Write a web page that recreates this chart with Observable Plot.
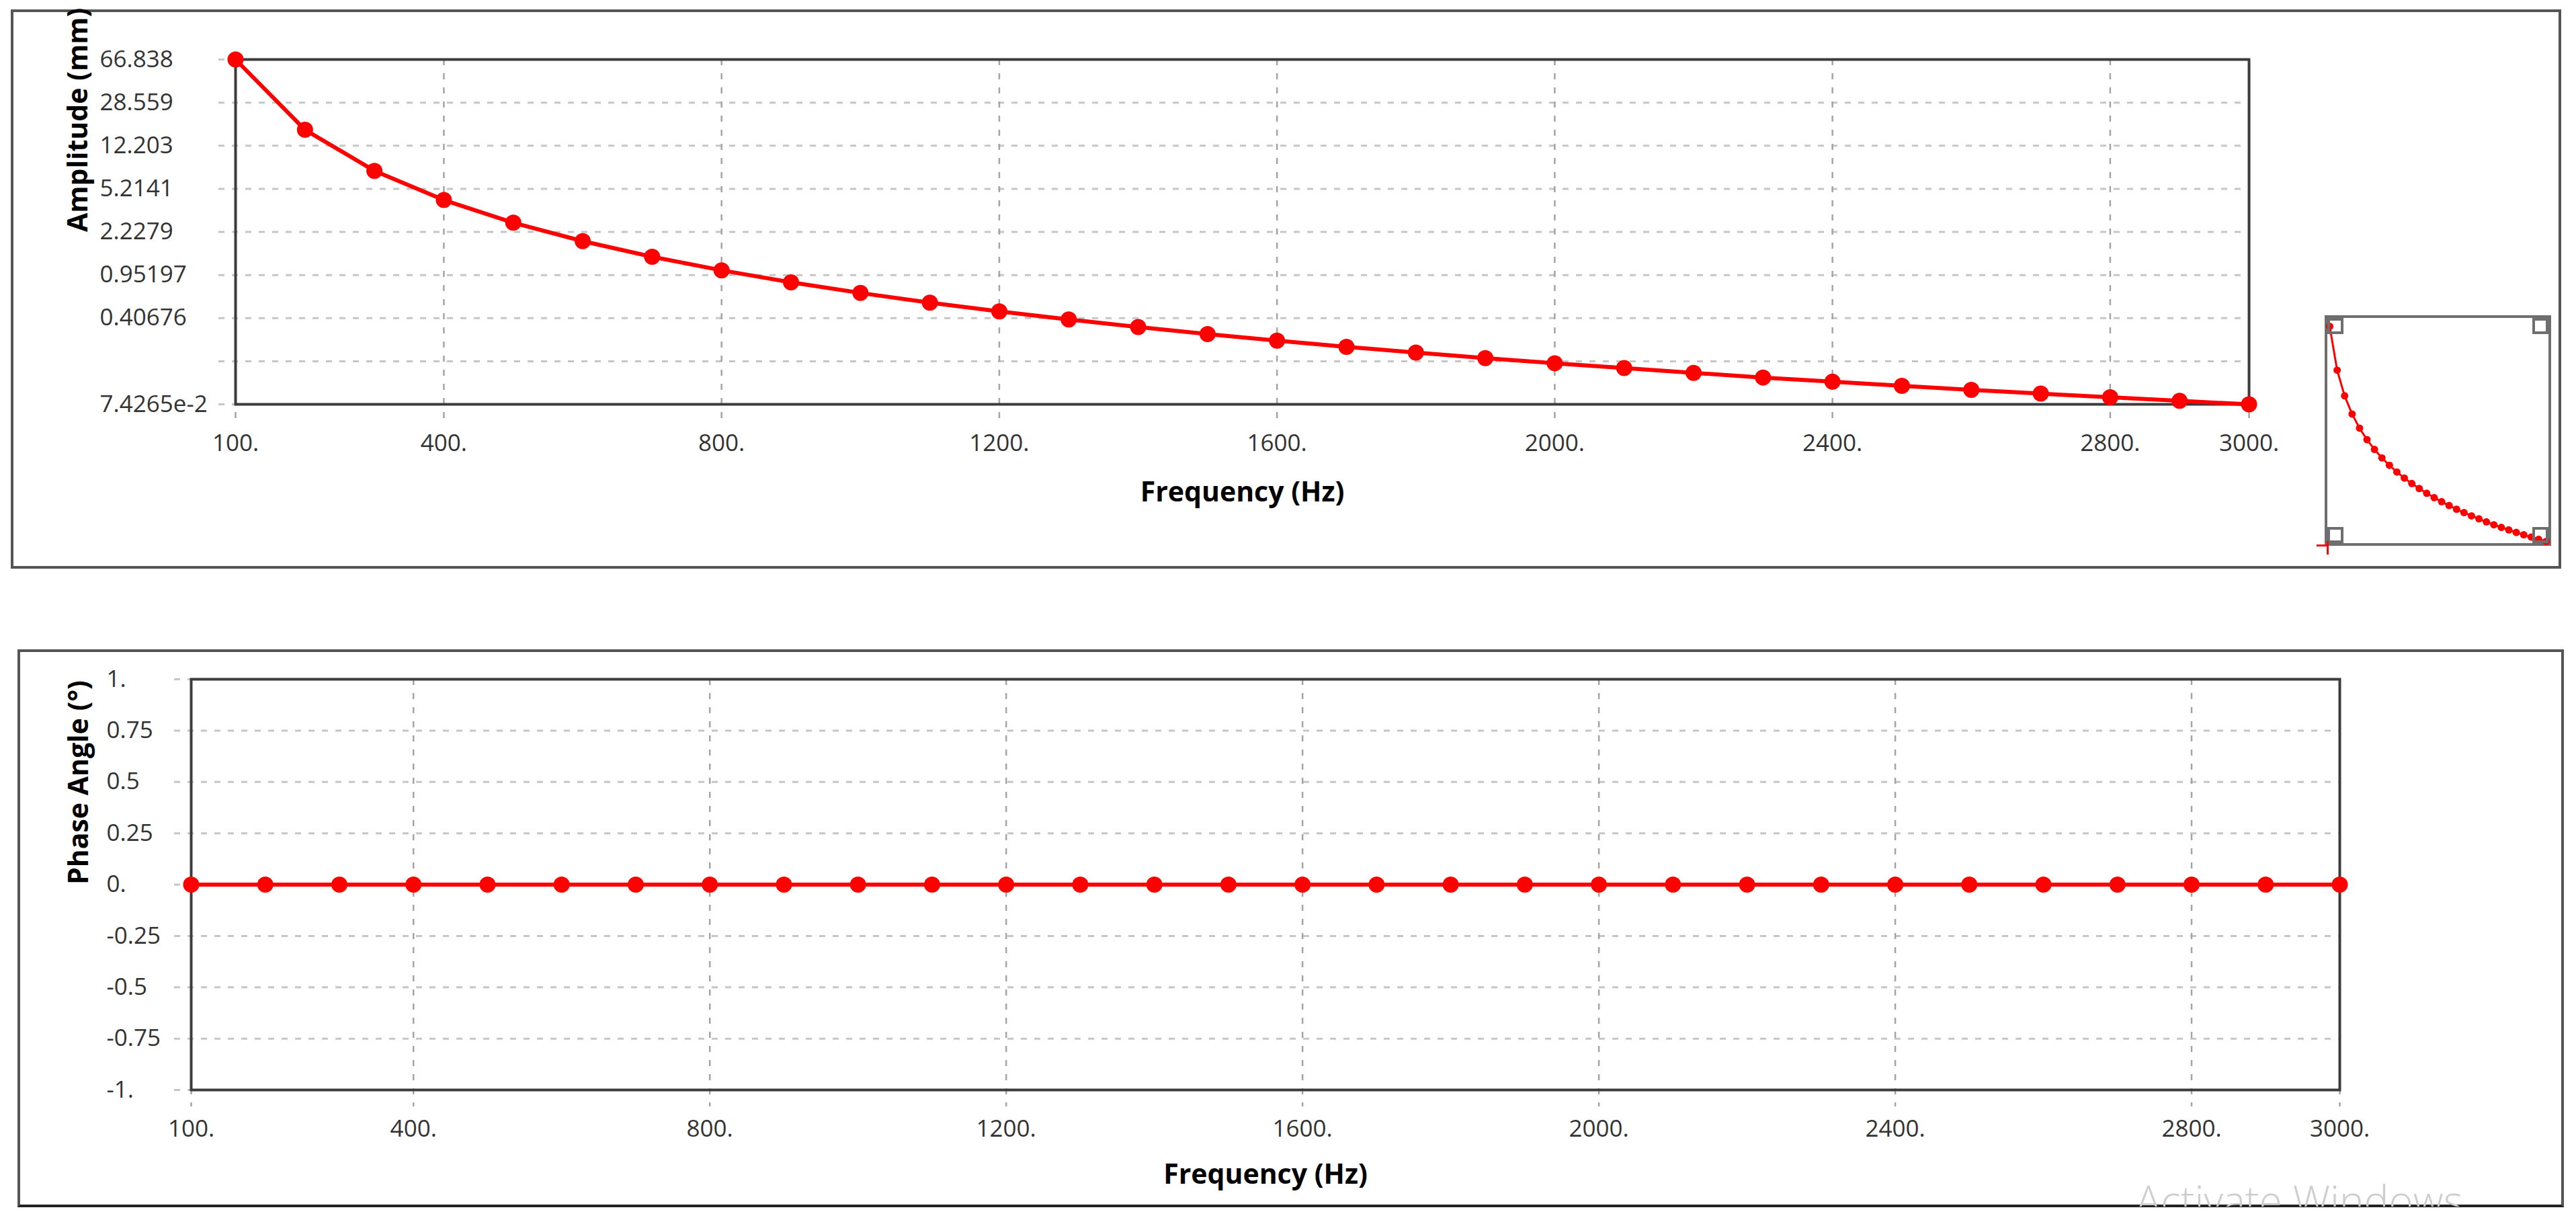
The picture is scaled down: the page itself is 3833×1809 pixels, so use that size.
<!DOCTYPE html>
<html>
<head>
<meta charset="utf-8">
<script src="https://cdn.jsdelivr.net/npm/d3@7"></script>
<script src="https://cdn.jsdelivr.net/npm/@observablehq/plot@0.6"></script>
<style>
html, body { margin: 0; padding: 0; background: #fff; }
#page { position: relative; width: 3833px; height: 1809px; overflow: hidden; background: #fff; font-family: "Open Sans", sans-serif; }
.panel { position: absolute; border: 4px solid #555; box-sizing: border-box; }
.chart { position: absolute; left: 0; }
#inset { position: absolute; left: 3459px; top: 469px; width: 337px; height: 343px; border: 4px solid #6e6e6e; box-sizing: border-box; background: #fff; }
#inset svg { position: absolute; left: 0; top: 0; }
.corner { position: absolute; width: 24px; height: 24px; border: 4px solid #6e6e6e; box-sizing: border-box; }
.cross { position: absolute; background: #ff0000; }
#wm { position: absolute; left: 3178px; top: 1740px; width: 640px; height: 55px; overflow: hidden; }
#wm span { position: absolute; left: 0; top: 14px; font-family: "Open Sans", sans-serif; font-weight: 300; font-size: 62px; line-height: 1; color: #cdcdcd; white-space: nowrap; }
</style>
</head>
<body>
<div id="page">
  <div class="panel" style="left:16px;top:14px;width:3795px;height:832px;"></div>
  <div class="panel" style="left:26px;top:966px;width:3789px;height:830px;border-bottom-color:#222;"></div>
</div>
<script>
// ---- data ----
const frequency = [100, 200, 300, 400, 500, 600, 700, 800, 900, 1000,
  1100, 1200, 1300, 1400, 1500, 1600, 1700, 1800, 1900, 2000,
  2100, 2200, 2300, 2400, 2500, 2600, 2700, 2800, 2900, 3000];
const amplitude = [66.838, 16.71, 7.43, 4.18, 2.67, 1.857, 1.364, 1.044, 0.825, 0.668,
  0.552, 0.464, 0.396, 0.341, 0.297, 0.261, 0.231, 0.206, 0.185, 0.167,
  0.152, 0.138, 0.126, 0.116, 0.107, 0.0989, 0.0917, 0.0853, 0.0795, 0.074265];
const phase = [0, 0, 0, 0, 0, 0, 0, 0, 0, 0,
  0, 0, 0, 0, 0, 0, 0, 0, 0, 0,
  0, 0, 0, 0, 0, 0, 0, 0, 0, 0];

const freqTickValues = [100, 400, 800, 1200, 1600, 2000, 2400, 2800, 3000];
const freqTickLabels = ["100.", "400.", "800.", "1200.", "1600.", "2000.", "2400.", "2800.", "3000."];
const ampTickValues = [0.074265, 0.17380, 0.40676, 0.95197, 2.2279, 5.2141, 12.203, 28.559, 66.838];
const ampTickLabels = ["7.4265e-2", "", "0.40676", "0.95197", "2.2279", "5.2141", "12.203", "28.559", "66.838"];
const phaseTickValues = [-1, -0.75, -0.5, -0.25, 0, 0.25, 0.5, 0.75, 1];
const phaseTickLabels = ["-1.", "-0.75", "-0.5", "-0.25", "0.", "0.25", "0.5", "0.75", "1."];

const ampRows = frequency.map((f, i) => ({f, a: amplitude[i]}));
const phaseRows = frequency.map((f, i) => ({f, p: phase[i]}));
const freqLabel = new Map(freqTickValues.map((v, i) => [v, freqTickLabels[i]]));
const ampLabel = new Map(ampTickValues.map((v, i) => [v, ampTickLabels[i]]));
const phaseLabel = new Map(phaseTickValues.map((v, i) => [v, phaseTickLabels[i]]));

const W = 3833;
const RED = "#ff0000";
const baseStyle = {fontFamily: "'Open Sans', sans-serif", fontSize: "35px", color: "#333", background: "transparent", overflow: "visible"};

function chart({rows, yKey, yScale, yTicks, yLabelMap, height, mL, mR, mT, mB, labelDx, titleDy, yTitle, yTitleDx}) {
  return Plot.plot({
    width: W, height,
    marginLeft: mL, marginRight: mR, marginTop: mT, marginBottom: mB,
    x: {domain: [100, 3000]},
    y: {...yScale, axis: null},
    style: baseStyle,
    marks: [
      Plot.ruleY(yTicks, {y: d => d, stroke: "#c6c6c6", strokeWidth: 3, strokeDasharray: "9,11", insetLeft: -25}),
      Plot.ruleX(freqTickValues, {x: d => d, stroke: "#a4a4a4", strokeWidth: 2.5, strokeDasharray: "9,12", insetBottom: -25}),
      Plot.frame({stroke: "#3c3c3c", strokeWidth: 4}),
      Plot.axisX({ticks: freqTickValues, tickSize: 0, tickPadding: 45, tickFormat: d => freqLabel.get(d), label: null, fill: "#333", fontSize: 35}),
      Plot.text(yTicks, {y: d => d, frameAnchor: "left", dx: labelDx, textAnchor: "start", text: d => yLabelMap.get(d), fill: "#333", fontSize: 35}),
      Plot.line(rows, {x: "f", y: yKey, stroke: RED, strokeWidth: 6}),
      Plot.dot(rows, {x: "f", y: yKey, r: 12, fill: RED}),
      Plot.text(["Frequency (Hz)"], {frameAnchor: "bottom", dy: titleDy, text: d => d, fontWeight: "bold", fontSize: 41, fill: "#000"}),
      Plot.text([yTitle], {frameAnchor: "left", dx: yTitleDx, rotate: -90, text: d => d, fontWeight: "bold", fontSize: 41, fill: "#000"})
    ]
  });
}

const page = document.getElementById("page");

const topChart = chart({
  rows: ampRows, yKey: "a",
  yScale: {type: "log", domain: [0.074265, 66.838]},
  yTicks: ampTickValues, yLabelMap: ampLabel,
  height: 860, mL: 350, mR: W - 3346, mT: 88, mB: 860 - 601,
  labelDx: -202, titleDy: 144, yTitle: "Amplitude (mm)", yTitleDx: -234
});
topChart.classList.add("chart");
topChart.style.top = "0px";
page.appendChild(topChart);

const botChart = chart({
  rows: phaseRows, yKey: "p",
  yScale: {domain: [-1, 1]},
  yTicks: phaseTickValues, yLabelMap: phaseLabel,
  height: 909, mL: 284, mR: W - 3481, mT: 110, mB: 909 - 721,
  labelDx: -126, titleDy: 139, yTitle: "Phase Angle (°)", yTitleDx: -167
});
botChart.classList.add("chart");
botChart.style.top = "900px";
page.appendChild(botChart);

// ---- overview inset ----
const inset = document.createElement("div");
inset.id = "inset";
const insetPlot = Plot.plot({
  width: 329, height: 335,
  marginLeft: 3, marginRight: 4, marginTop: 12, marginBottom: 3,
  x: {domain: [100, 3000], axis: null},
  y: {type: "log", domain: [0.074265, 66.838], axis: null},
  style: {background: "transparent", overflow: "visible"},
  marks: [
    Plot.line(ampRows, {x: "f", y: "a", stroke: RED, strokeWidth: 3}),
    Plot.dot(ampRows, {x: "f", y: "a", r: 5.5, fill: RED})
  ]
});
inset.appendChild(insetPlot);
["left:0;top:0", "right:0;top:0", "left:0;bottom:0", "right:0;bottom:0"].forEach(pos => {
  const c = document.createElement("div");
  c.className = "corner";
  c.style.cssText = pos;
  inset.appendChild(c);
});
page.appendChild(inset);

// small red origin cross under the inset's lower-left corner
[["left:3447px;top:810px;width:18px;height:3px"], ["left:3462px;top:805px;width:3px;height:20px"]].forEach(([css]) => {
  const c = document.createElement("div");
  c.className = "cross";
  c.style.cssText = css;
  page.appendChild(c);
});

// ---- watermark, clipped at the bottom like the screenshot ----
const wm = document.createElement("div");
wm.id = "wm";
wm.innerHTML = "<span>Activate Windows</span>";
page.appendChild(wm);
</script>
</body>
</html>
